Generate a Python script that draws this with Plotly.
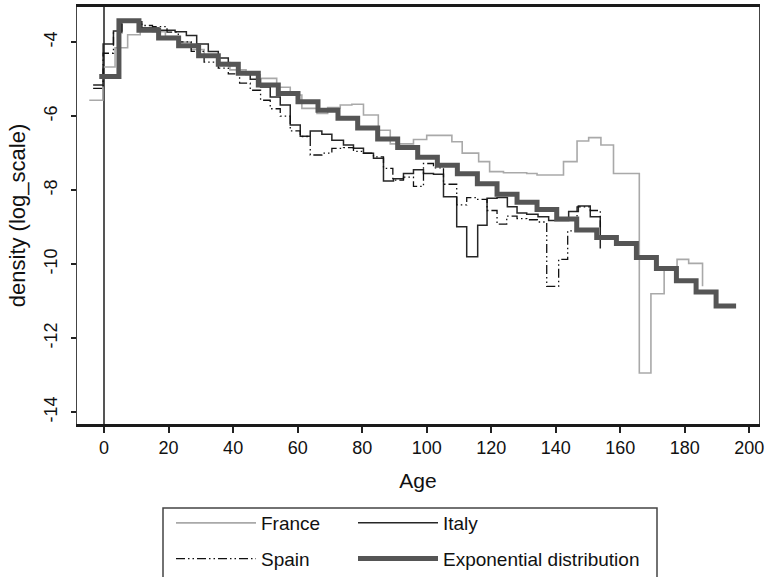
import plotly.graph_objects as go

# ---- data ----
france_age = [-4.6, -0.4, 3.4, 7.3, 11.2, 15.0, 19.0, 23.0, 27.0, 31.0, 35.0, 39.0, 44.0,
              48.4, 53.5, 57.7, 61.3, 66.0, 69.3, 73.2, 76.8, 80.4, 85.0, 88.7, 95.9,
              100.0, 107.8, 111.0, 116.1, 119.5, 123.8, 131.0, 134.2, 142.4, 146.6,
              150.2, 154.0, 157.9, 165.9, 169.5, 173.6, 177.6, 181.2, 185.5]
france_val = [-5.57, -4.67, -4.15, -3.80, -3.62, -3.72, -3.85, -4.00, -4.20, -4.38, -4.55,
              -4.75, -4.88, -4.98, -5.22, -5.43, -5.79, -5.93, -5.77, -5.70, -5.68, -5.97,
              -6.38, -6.75, -6.63, -6.52, -6.69, -7.00, -7.23, -7.50, -7.53, -7.55, -7.59,
              -7.23, -6.67, -6.58, -6.78, -7.55, -12.94, -10.80, -10.15, -9.87, -9.98,
              -10.60]

italy_age = [-3.4, -0.3, 2.9, 5.5, 11.7, 17.0, 22.0, 25.5, 28.7, 32.3, 35.4, 38.5, 41.6,
             45.3, 48.5, 51.5, 54.6, 57.7, 60.8, 63.9, 67.5, 70.6, 74.2, 77.3, 80.4, 83.5,
             86.6, 89.7, 92.8, 95.9, 99.0, 102.1, 105.2, 109.3, 112.4, 115.8, 118.7, 121.8,
             125.0, 128.0, 131.0, 134.5, 137.8, 144.0, 147.0, 150.7, 153.8]
italy_val = [-5.16, -4.05, -3.70, -3.45, -3.62, -3.68, -3.72, -3.82, -4.05, -4.25, -4.43,
             -4.63, -4.81, -5.00, -5.21, -5.48, -5.70, -6.24, -6.54, -6.40, -6.49, -6.65,
             -6.78, -6.87, -7.00, -7.14, -7.75, -7.69, -7.55, -7.45, -7.55, -7.57, -8.18,
             -8.99, -9.80, -8.95, -8.22, -8.20, -8.45, -8.62, -8.65, -8.72, -8.82, -8.58,
             -8.43, -8.72, -9.58]

spain_age = [-3.4, -0.3, 2.9, 5.5, 11.7, 15.0, 19.5, 23.0, 27.0, 31.0, 35.4, 38.5, 42.0,
             45.3, 48.5, 51.5, 54.6, 57.7, 60.8, 63.9, 67.5, 70.6, 74.2, 77.3, 80.4, 83.5,
             86.6, 89.5, 92.8, 95.9, 99.0, 102.1, 105.2, 109.3, 112.4, 115.8, 118.7, 121.8,
             124.8, 128.0, 131.0, 134.3, 137.2, 140.9, 143.7, 146.6, 150.7, 153.8]
spain_val = [-5.25, -4.30, -3.75, -3.45, -3.55, -3.58, -3.73, -3.99, -4.25, -4.54, -4.70,
             -4.86, -5.11, -5.30, -5.57, -5.80, -6.00, -6.40, -6.55, -7.05, -7.00, -6.87,
             -6.85, -6.95, -7.00, -7.10, -7.41, -7.73, -7.65, -7.90, -7.28, -7.40, -7.84,
             -8.40, -8.20, -8.25, -8.55, -8.92, -8.70, -8.77, -8.80, -8.86, -10.60, -9.87,
             -9.10, -8.45, -8.55, -9.00]

expo_age = [-1.5, 4.6, 10.8, 16.9, 23.1, 29.3, 35.4, 41.6, 47.8, 54.0, 60.1, 66.3, 72.5,
            78.6, 84.8, 91.0, 97.2, 103.3, 109.5, 115.7, 121.8, 128.0, 134.2, 140.3, 146.5,
            152.7, 158.8, 165.0, 171.2, 177.4, 183.5, 189.7, 195.9]
expo_val = [-4.93, -3.42, -3.68, -3.89, -4.10, -4.37, -4.60, -4.84, -5.16, -5.39, -5.61,
            -5.84, -6.06, -6.32, -6.62, -6.85, -7.11, -7.33, -7.56, -7.83, -8.11, -8.33,
            -8.52, -8.78, -9.08, -9.28, -9.44, -9.82, -10.12, -10.45, -10.75, -11.13, -11.13]

x_ticks = [0, 20, 40, 60, 80, 100, 120, 140, 160, 180, 200]
y_ticks = [-4, -6, -8, -10, -12, -14]

FONT = "Arial, Liberation Sans, sans-serif"

fig = go.Figure()
fig.add_trace(go.Scatter(x=france_age, y=france_val, mode="lines", line_shape="hv",
                         name="France", legend="legend", legendgroup="fr",
                         line=dict(color="#a9a9a9", width=1.6)))
fig.add_trace(go.Scatter(x=italy_age, y=italy_val, mode="lines", line_shape="hv",
                         name="Italy", legend="legend2", legendgroup="it",
                         line=dict(color="#262626", width=1.5)))
fig.add_trace(go.Scatter(x=spain_age, y=spain_val, mode="lines", line_shape="hv",
                         name="Spain", legend="legend", legendgroup="es",
                         line=dict(color="#111111", width=1.3,
                                   dash="9px,3px,1.5px,3px,1.5px,3px")))
fig.add_trace(go.Scatter(x=expo_age, y=expo_val, mode="lines", line_shape="hv",
                         name="Exponential distribution", legend="legend2", legendgroup="ex",
                         line=dict(color="#555555", width=5)))

W, H = 768, 577
L, R, T, B = 77, 9, 7, 153
pw, ph = W - L - R, H - T - B

def px(x):
    return (x - L) / pw

def py(y):
    return (H - B - y) / ph

legend_common = dict(
    bgcolor="rgba(0,0,0,0)", borderwidth=0, orientation="v",
    font=dict(family=FONT, size=19, color="#111"),
    itemwidth=80, tracegroupgap=8, traceorder="grouped",
    xanchor="left", yanchor="top",
)

fig.update_layout(
    width=W, height=H,
    margin=dict(l=L, r=R, t=T, b=B, pad=0, autoexpand=False),
    paper_bgcolor="white", plot_bgcolor="white",
    font=dict(family=FONT, size=17, color="#111"),
    showlegend=True,
    legend=dict(x=px(171), y=py(504), **legend_common),
    legend2=dict(x=px(353), y=py(504), **legend_common),
    xaxis=dict(
        range=[-8.4, 203], tickvals=x_ticks, ticktext=[str(v) for v in x_ticks],
        ticks="outside", ticklen=6, tickwidth=1.5, tickcolor="#222",
        showgrid=False, zeroline=True, zerolinecolor="#555", zerolinewidth=1.5,
        showline=True, linecolor="#1a1a1a", linewidth=2.5, mirror=True,
        tickfont=dict(size=18, family=FONT, color="#111"),
        title=dict(text="Age", font=dict(size=21, family=FONT, color="#111"), standoff=16),
    ),
    yaxis=dict(
        range=[-14.32, -3.05], tickvals=y_ticks, ticktext=[str(v) for v in y_ticks],
        ticks="outside", ticklen=5, tickwidth=1.5, tickcolor="#222",
        showgrid=False, zeroline=False, ticklabelstandoff=7,
        showline=True, linecolor="#444", linewidth=1.2, mirror=True,
        tickangle=-90, tickfont=dict(size=18, family=FONT, color="#111"),
        title=dict(text="density (log_scale)", font=dict(size=22, family=FONT, color="#111"),
                   standoff=9),
    ),
    shapes=[dict(type="rect", xref="paper", yref="paper",
                 x0=px(163), x1=px(657), y0=py(590), y1=py(508),
                 line=dict(color="#444", width=1.5), fillcolor="rgba(0,0,0,0)")],
)

fig.write_html("out.html", config={"displayModeBar": False},
               post_script="document.body.style.margin='0';")
